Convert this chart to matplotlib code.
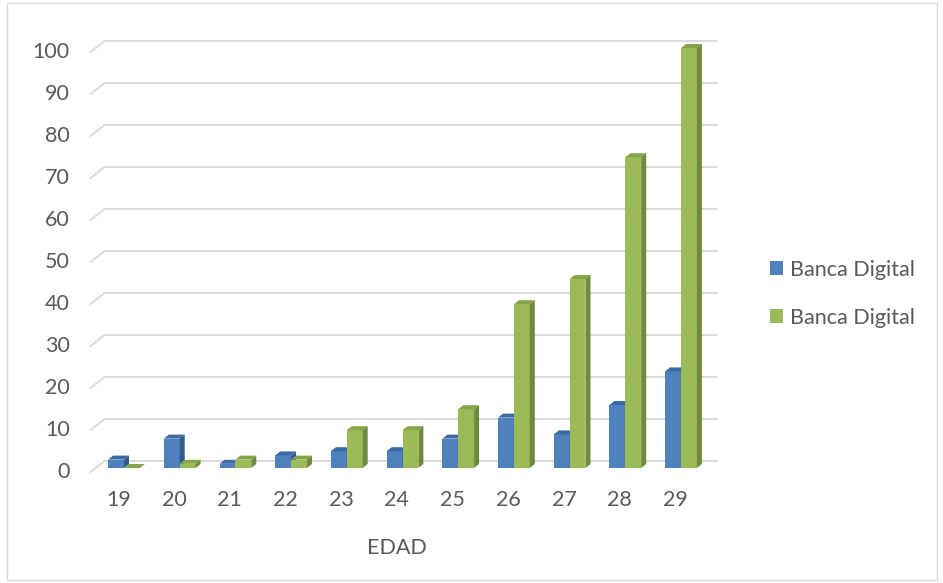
import matplotlib.pyplot as plt
import matplotlib.transforms as mtransforms
from matplotlib.patches import Polygon, Rectangle

edades = ['19', '20', '21', '22', '23', '24', '25', '26', '27', '28', '29']
serie_azul = [2, 7, 1, 3, 4, 4, 7, 12, 8, 15, 23]
serie_verde = [0, 1, 2, 2, 9, 9, 14, 39, 45, 74, 100]
nombre_serie = 'Banca Digital'
yticks = list(range(0, 101, 10))

W, H = 943, 583
TXT = '#595959'
GRID = '#D9D9D9'
AZUL = ('#4F81BD', '#3D6AA2', '#345A8A')    # frente, arriba, lado
VERDE = ('#9BBB59', '#85A548', '#6E8A3C')
FS = 15.5

plt.rcParams['font.family'] = ['Lato', 'DejaVu Sans']

fig = plt.figure(figsize=(W / 100, H / 100), dpi=100)
ax = fig.add_axes([0, 0, 1, 1])
ax.set_axis_off()

# escala: categoria i -> px 124 + 55.7*i ; valor v -> px (desde abajo) 115 + 4.2*v
px_cat, px_val = 55.7, 4.2
ax.set_xlim(-124 / px_cat, (W - 124) / px_cat)
ax.set_ylim(-115 / px_val, (H - 115) / px_val)
sx, sy = 1 / px_cat, 1 / px_val   # px -> datos


def shifted(dx, dy):
    return mtransforms.offset_copy(ax.transData, fig, x=dx, y=dy, units='dots')


back = shifted(8.4, 7)
front = shifted(-5.6, -4)

# paredes: lineas de cuadricula y su tramo lateral inclinado
x_izq, x_der = -0.5, len(edades) - 0.5
for v in yticks:
    ax.plot([x_izq, x_der], [v, v], color=GRID, lw=1.4, transform=back, zorder=1)
    p0 = front.transform((x_izq, v))
    p1 = back.transform((x_izq, v))
    ax.plot([p0[0], p1[0]], [p0[1], p1[1]], color=GRID, lw=1.4,
            transform=None, zorder=1)
    ax.text(x_izq, v, str(v), transform=shifted(-5.6 - 21, -4), ha='right',
            va='center', fontsize=FS, color=TXT)

ancho = 0.285
dx, dy = 5 * sx, 4 * sy


def barra3d(x0, h, colores, z):
    x1 = x0 + ancho
    ax.add_patch(Rectangle((x0, 0), ancho, h, facecolor=colores[0],
                           edgecolor='none', zorder=z))
    ax.add_patch(Polygon([(x0, h), (x1, h), (x1 + dx, h + dy), (x0 + dx, h + dy)],
                         facecolor=colores[1], edgecolor='none', zorder=z))
    ax.add_patch(Polygon([(x1, 0), (x1 + dx, dy), (x1 + dx, h + dy), (x1, h)],
                         facecolor=colores[2], edgecolor='none', zorder=z))


for i, (a, v) in enumerate(zip(serie_azul, serie_verde)):
    barra3d(i - ancho, a, AZUL, 2 + i * 0.01)
    barra3d(i, v, VERDE, 3 + i * 0.01)

for i, e in enumerate(edades):
    ax.text(i, 0, e, transform=shifted(-5.6, -4 - 28), ha='center', va='center',
            fontsize=FS, color=TXT)

ax.text((len(edades) - 1) / 2, 0, 'EDAD', transform=shifted(-5.6, -4 - 76),
        ha='center', va='center', fontsize=FS, color=TXT)

handles = [Rectangle((0, 0), 1, 1, facecolor=AZUL[0]),
           Rectangle((0, 0), 1, 1, facecolor=VERDE[0])]
fig.legend(handles, [nombre_serie, nombre_serie], loc='center left',
           bbox_to_anchor=(759 / W, 1 - 294 / H), frameon=False, fontsize=FS,
           labelcolor=TXT, handlelength=0.62, handleheight=0.62,
           handletextpad=0.3, labelspacing=1.3, borderpad=0)

fig.patches.append(Rectangle((7 / W, 3 / H), 930 / W, 577 / H,
                             transform=fig.transFigure, fill=False,
                             edgecolor=GRID, lw=1))

fig.savefig('out.png', dpi=100, facecolor='white')
